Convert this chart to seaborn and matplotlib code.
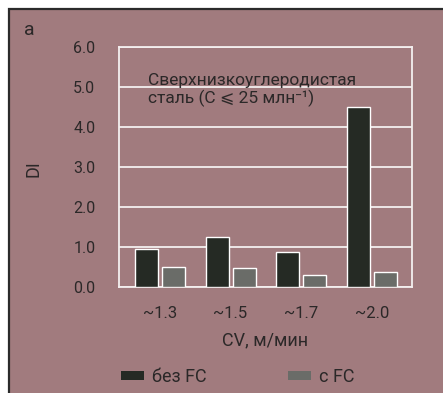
import matplotlib
matplotlib.use("Agg")
import matplotlib.pyplot as plt
from matplotlib.patches import Rectangle, Patch
import seaborn as sns
import pandas as pd

# Data
speeds = ["~1.3", "~1.5", "~1.7", "~2.0"]
di_without_fc = [0.95, 1.25, 0.88, 4.5]
di_with_fc = [0.5, 0.47, 0.3, 0.37]
series_names = ["без FC", "с FC"]
y_ticks = [0.0, 1.0, 2.0, 3.0, 4.0, 5.0, 6.0]

df = pd.DataFrame({
    "CV": speeds * 2,
    "DI": di_without_fc + di_with_fc,
    "series": [series_names[0]] * len(speeds) + [series_names[1]] * len(speeds),
})

BG = "#a17b7e"
DARK = "#252a24"
GREY = "#6a6c68"
TXT = "#2b2828"
FONT = ["Roboto", "DejaVu Sans", "STIXGeneral"]

sns.set_theme(style="white")
plt.rcParams["font.family"] = FONT
plt.rcParams["text.color"] = TXT

W, H = 443, 393
fig = plt.figure(figsize=(W / 100, H / 100), dpi=100)
fig.patch.set_facecolor("white")
# panel background with a dark frame along the top and left edges
fig.add_artist(Rectangle((9 / W, -0.1), 1.2, 1.1 - 9.5 / H,
                         transform=fig.transFigure, facecolor=BG,
                         edgecolor="#2b2b2b", linewidth=1.6, zorder=0))

ax = fig.add_axes([119 / W, 1 - 287 / H, 293 / W, 240 / H])
ax.set_facecolor(BG)

sns.barplot(data=df, x="CV", y="DI", hue="series", order=speeds,
            hue_order=series_names, palette=[DARK, GREY], width=0.766,
            gap=0.15, saturation=1, legend=False, ax=ax, zorder=3)

ax.set_xlim(-0.58, 3.57)
ax.set_ylim(0, 6)
ax.set_yticks(y_ticks)
ax.set_yticklabels([f"{v:.1f}" for v in y_ticks])
ax.grid(axis="y", color="#f4f0f0", linewidth=1.3, zorder=1)
ax.grid(axis="x", visible=False)
for s in ax.spines.values():
    s.set_color("#f4f0f0")
    s.set_linewidth(1.3)
    s.set_visible(True)

ax.tick_params(axis="y", length=0, pad=17, labelsize=11.5, labelcolor=TXT)
ax.tick_params(axis="x", length=0, pad=14, labelsize=12, labelcolor=TXT)

ax.set_xlabel("CV, м/мин", fontsize=13, color=TXT)
ax.xaxis.set_label_coords(0.498, -0.221)
ax.xaxis.label.set_verticalalignment("center")
ax.set_ylabel("DI", fontsize=13, color=TXT)
ax.yaxis.set_label_coords(-0.2935, 0.492)
ax.yaxis.label.set_verticalalignment("center")

ax.text(0.099, 0.821, "Сверхнизкоуглеродистая\nсталь (C ⩽ 25 млн⁻¹)",
        transform=ax.transAxes, ha="left", va="center", fontsize=12.5,
        color=TXT, linespacing=1.15, family=FONT, zorder=4)

fig.text(29 / W, 1 - 30 / H, "а", ha="center", va="center", fontsize=14,
         color=TXT)

handles = [Patch(facecolor=DARK, edgecolor="none"),
           Patch(facecolor=GREY, edgecolor="none")]
leg = fig.legend(handles, series_names, loc="center left",
                 bbox_to_anchor=(121 / W, 1 - 377 / H), ncol=2, frameon=False,
                 fontsize=13, handlelength=1.28, handleheight=0.45,
                 handletextpad=0.45, columnspacing=4.5, borderpad=0,
                 borderaxespad=0)
for t in leg.get_texts():
    t.set_color(TXT)

fig.savefig("out.png", dpi=100, facecolor=fig.get_facecolor())
